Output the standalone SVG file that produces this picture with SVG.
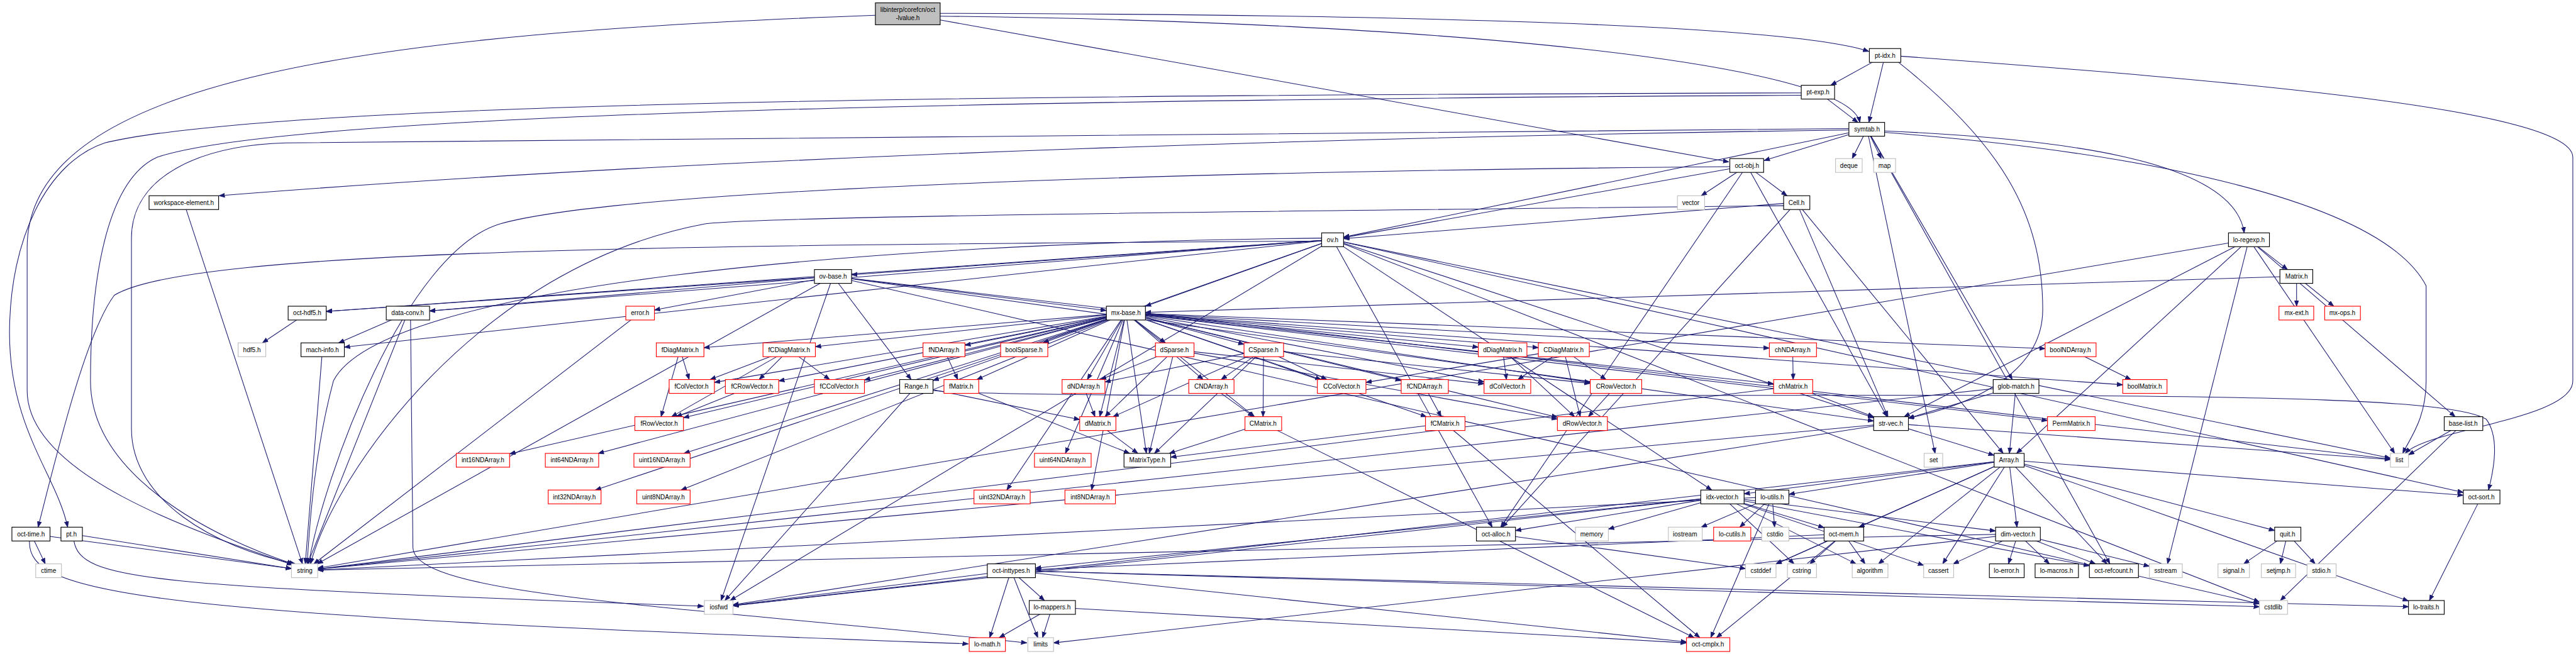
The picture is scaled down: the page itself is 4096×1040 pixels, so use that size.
<svg xmlns="http://www.w3.org/2000/svg" width="4096" height="1040" viewBox="0 0 4096 1040">
<style>
.n rect{fill:#fff;stroke:#000;stroke-width:1.5}
.n.r rect{stroke:#f00}
.n.g rect{stroke:#bfbfbf}
.n.root rect{fill:#bfbfbf}
.n text{font-family:"Liberation Sans",Arial,sans-serif;font-size:13.3px;text-anchor:middle;fill:#000}
.e path{fill:none;stroke:#191970;stroke-width:1.4;marker-end:url(#a)}
</style>
<defs>
<marker id="a" markerUnits="userSpaceOnUse" markerWidth="14" markerHeight="11" refX="12" refY="5" orient="auto"><path d="M0,0.5 L12,5 L0,9.5 z" fill="#191970" stroke="#191970" stroke-width="1"/></marker>
</defs>
<rect width="4096" height="1040" fill="#fff"/>
<g transform="scale(0.7573)">
<g id="edges" class="e">
<path d="M1974,28 C2900,30 3750,50 3924,108"/>
<path d="M1974,34 C3000,45 3880,130 3905,257"/>
<path d="M1974,42 L3630,340"/>
<path d="M1838,32 C800,70 57,160 57,520 L57,820 C57,1000 420,1120 614,1186"/>
<path d="M3958,116 L3844,179"/>
<path d="M3958,116 L3924,257"/>
<path d="M3985,130 C4200,300 4289,450 4289,650 C4289,800 4100,860 4006,878"/>
<path d="M3991,118 C4700,170 5402,230 5402,330 L5402,800 C5402,880 5100,900 5050,952"/>
<path d="M3817,193 L3901,257"/>
<path d="M3782,195 C2200,200 600,210 220,300 C100,340 20,500 20,700 C20,900 120,1000 142,1107"/>
<path d="M3782,200 C2000,210 600,240 330,330 C220,380 190,600 190,800 C190,1000 450,1130 615,1184"/>
<path d="M3920,271 L3889,333"/>
<path d="M3920,271 L3950,333"/>
<path d="M3920,271 L3704,337"/>
<path d="M3920,271 L2821,498"/>
<path d="M3882,273 C3000,285 1600,320 460,411"/>
<path d="M3882,270 C2500,275 1300,290 600,300 C420,305 276,370 276,500 L276,900 C276,1050 450,1150 620,1184"/>
<path d="M3957,275 C4300,290 4690,330 4712,489"/>
<path d="M3920,271 L4225,797"/>
<path d="M3957,278 C4500,320 5000,420 5094,600 L5094,800 C5094,880 5060,920 5045,952"/>
<path d="M3920,271 L4063,952"/>
<path d="M3920,271 L4430,1184"/>
<path d="M3668,348 L3572,411"/>
<path d="M3668,348 L3752,411"/>
<path d="M3668,348 L2821,499"/>
<path d="M3668,348 L3151,1107"/>
<path d="M3668,348 L3962,875"/>
<path d="M3632,350 C2400,360 1300,400 1050,470 C850,530 680,1000 648,1184"/>
<path d="M3772,425 L2821,501"/>
<path d="M3772,425 L4206,952"/>
<path d="M3772,425 L3154,1107"/>
<path d="M3772,425 L3964,875"/>
<path d="M3745,432 C2500,445 1600,455 1480,470 C1000,560 700,1000 652,1184"/>
<path d="M386,425 L635,1184"/>
<path d="M2798,503 L1788,577"/>
<path d="M2798,503 L2405,643"/>
<path d="M2798,503 L1959,799"/>
<path d="M2798,503 L685,654"/>
<path d="M2798,503 L902,653"/>
<path d="M2798,503 L723,729"/>
<path d="M2775,506 C1500,515 400,520 240,620 C180,700 120,950 80,1107"/>
<path d="M2775,500 C1800,510 800,600 700,800 C660,950 650,1100 645,1184"/>
<path d="M2798,503 L1533,1261"/>
<path d="M2798,503 L5019,962"/>
<path d="M2798,503 L4744,1264"/>
<path d="M2798,503 L3594,1029"/>
<path d="M2798,503 L3133,1107"/>
<path d="M2798,503 L3934,877"/>
<path d="M2798,503 L5172,1034"/>
<path d="M1749,580 L2323,652"/>
<path d="M1749,580 L1913,797"/>
<path d="M1749,580 L1374,651"/>
<path d="M1749,580 L685,654"/>
<path d="M1749,580 L902,653"/>
<path d="M1749,580 L3934,884"/>
<path d="M1749,580 L666,1184"/>
<path d="M1749,580 L1514,1261"/>
<path d="M1749,580 L5019,964"/>
<path d="M1749,580 L4744,1268"/>
<path d="M4722,503 L4803,566"/>
<path d="M4722,503 L4234,952"/>
<path d="M4722,503 L3998,875"/>
<path d="M4722,503 L5155,875"/>
<path d="M4722,503 L5028,952"/>
<path d="M4722,503 L4551,1184"/>
<path d="M4722,503 L667,1193"/>
<path d="M4822,580 L2405,656"/>
<path d="M4822,580 L4822,643"/>
<path d="M4822,580 L4900,643"/>
<path d="M645,657 L551,720"/>
<path d="M856,657 L711,720"/>
<path d="M862,671 L867,1150 C870,1250 1400,1270 2156,1350"/>
<path d="M856,657 L646,1184"/>
<path d="M677,734 L641,1184"/>
<path d="M1344,657 L659,1184"/>
<path d="M2364,657 L1478,730"/>
<path d="M2364,657 L1712,728"/>
<path d="M2364,657 L2026,725"/>
<path d="M2364,657 L2190,720"/>
<path d="M2364,657 L2447,720"/>
<path d="M2364,657 L2612,723"/>
<path d="M2364,657 L3104,729"/>
<path d="M2364,657 L3230,730"/>
<path d="M2364,657 L3715,731"/>
<path d="M2364,657 L4294,732"/>
<path d="M2364,657 L1500,803"/>
<path d="M2364,657 L1635,800"/>
<path d="M2364,657 L1815,798"/>
<path d="M2364,657 L2051,797"/>
<path d="M2364,657 L2283,797"/>
<path d="M2364,657 L2526,797"/>
<path d="M2364,657 L2774,797"/>
<path d="M2364,657 L2942,799"/>
<path d="M2364,657 L3116,802"/>
<path d="M2364,657 L3339,803"/>
<path d="M2364,657 L3724,806"/>
<path d="M2364,657 L4457,808"/>
<path d="M2364,657 L1435,877"/>
<path d="M2364,657 L2309,875"/>
<path d="M2364,657 L2634,875"/>
<path d="M2364,657 L2995,875"/>
<path d="M2364,657 L3270,876"/>
<path d="M2364,657 L4299,883"/>
<path d="M2364,657 L1070,953"/>
<path d="M2364,657 L1256,952"/>
<path d="M2364,657 L1436,952"/>
<path d="M2364,657 L2237,952"/>
<path d="M2364,657 L2407,952"/>
<path d="M2364,657 L1250,1029"/>
<path d="M2364,657 L1430,1029"/>
<path d="M2364,657 L2114,1029"/>
<path d="M2364,657 L2292,1029"/>
<path d="M1428,734 L1447,797"/>
<path d="M1428,734 L1388,875"/>
<path d="M1657,734 L1491,797"/>
<path d="M1657,734 L1594,797"/>
<path d="M1657,734 L1742,797"/>
<path d="M1657,734 L1410,875"/>
<path d="M1579,811 L1420,875"/>
<path d="M1982,734 L2011,797"/>
<path d="M2466,734 L2311,797"/>
<path d="M2466,734 L2320,875"/>
<path d="M2466,734 L2413,952"/>
<path d="M2466,734 L3116,806"/>
<path d="M2466,734 L3270,880"/>
<path d="M2653,734 L2564,797"/>
<path d="M2653,734 L2320,802"/>
<path d="M2653,734 L2337,875"/>
<path d="M2653,734 L2652,875"/>
<path d="M2653,734 L2424,952"/>
<path d="M2653,734 L2786,797"/>
<path d="M2653,734 L3339,805"/>
<path d="M2275,811 L2299,875"/>
<path d="M2543,811 L2632,875"/>
<path d="M2018,811 L2372,952"/>
<path d="M2305,889 L2389,952"/>
<path d="M2652,889 L2455,952"/>
<path d="M2652,889 L3557,1339"/>
<path d="M3034,889 L2458,960"/>
<path d="M3034,889 L3569,1339"/>
<path d="M1924,811 L2267,881"/>
<path d="M1924,811 L1522,1261"/>
<path d="M1959,820 C2100,835 3000,830 4000,830 C4800,830 5150,840 5220,880 C5250,920 5235,990 5225,1029"/>
<path d="M3155,734 L3163,797"/>
<path d="M3155,734 L3306,875"/>
<path d="M3283,734 L2868,803"/>
<path d="M3283,734 L3187,797"/>
<path d="M3283,734 L3372,797"/>
<path d="M3283,734 L3318,875"/>
<path d="M3764,734 L3765,797"/>
<path d="M3765,811 L3934,875"/>
<path d="M3765,811 L667,1195"/>
<path d="M2991,811 L3026,875"/>
<path d="M3393,811 L3335,875"/>
<path d="M4347,734 L4474,797"/>
<path d="M4233,811 L4219,952"/>
<path d="M4233,811 L4007,878"/>
<path d="M4233,811 L667,1195"/>
<path d="M3970,889 L4187,956"/>
<path d="M3970,889 L1539,1270"/>
<path d="M3970,889 L5019,965"/>
<path d="M3970,889 L667,1195"/>
<path d="M5172,889 L5057,955"/>
<path d="M5172,889 L4788,1261"/>
<path d="M4218,966 L4079,1184"/>
<path d="M4218,966 L3729,1184"/>
<path d="M4218,966 L3944,1184"/>
<path d="M4218,966 L1539,1272"/>
<path d="M4218,966 L4235,1107"/>
<path d="M4218,966 L3662,1037"/>
<path d="M4218,966 L5057,1262"/>
<path d="M4218,966 L3756,1038"/>
<path d="M4218,966 L5172,1040"/>
<path d="M4218,966 L4776,1114"/>
<path d="M4218,966 L3903,1107"/>
<path d="M4218,966 L4424,1184"/>
<path d="M3616,1043 L4039,1187"/>
<path d="M3616,1043 L3767,1184"/>
<path d="M3616,1043 L3897,1184"/>
<path d="M3616,1043 L1539,1272"/>
<path d="M3616,1043 L3377,1111"/>
<path d="M3616,1043 L4190,1115"/>
<path d="M3616,1043 L2174,1193"/>
<path d="M3616,1043 L3182,1114"/>
<path d="M3616,1043 L3830,1108"/>
<path d="M3616,1043 L4387,1188"/>
<path d="M3721,1043 L3572,1107"/>
<path d="M3721,1043 L3653,1107"/>
<path d="M3721,1043 L3726,1107"/>
<path d="M3721,1043 L667,1197"/>
<path d="M3721,1043 L3592,1339"/>
<path d="M3871,1121 L3729,1184"/>
<path d="M3871,1121 L3800,1184"/>
<path d="M3871,1121 L3916,1184"/>
<path d="M3871,1121 L3604,1339"/>
<path d="M3871,1121 L2174,1196"/>
<path d="M3141,1121 L3665,1194"/>
<path d="M4237,1121 L4101,1184"/>
<path d="M4237,1121 L4217,1184"/>
<path d="M4237,1121 L4303,1184"/>
<path d="M4237,1121 L4400,1184"/>
<path d="M4237,1121 L4513,1189"/>
<path d="M4237,1121 L667,1197"/>
<path d="M4237,1121 L2212,1350"/>
<path d="M4803,1121 L4711,1184"/>
<path d="M4803,1121 L4788,1184"/>
<path d="M4803,1121 L4861,1184"/>
<path d="M5210,1043 L5101,1261"/>
<path d="M2123,1198 L1539,1271"/>
<path d="M2123,1198 L2193,1261"/>
<path d="M2123,1198 L2078,1339"/>
<path d="M2123,1198 L2179,1339"/>
<path d="M2123,1198 L4744,1274"/>
<path d="M2123,1198 L5057,1274"/>
<path d="M2123,1198 L3541,1348"/>
<path d="M2209,1275 L2098,1339"/>
<path d="M2209,1275 L2189,1339"/>
<path d="M2209,1275 L3541,1350"/>
<path d="M65,1121 L95,1184"/>
<path d="M65,1121 L612,1194"/>
<path d="M62,1135 C55,1250 300,1290 2033,1352"/>
<path d="M150,1121 L612,1194"/>
<path d="M155,1135 C170,1220 300,1230 1477,1273"/>
</g>
<g id="n_root" class="n root"><rect x="1838" y="6" width="136" height="46"/><text x="1906" y="25">libinterp/corefcn/oct</text><text x="1906" y="42">-lvalue.h</text></g>
<g id="n_ptidx" class="n"><rect x="3925" y="102" width="66" height="29"/><text x="3958" y="121">pt-idx.h</text></g>
<g id="n_ptexp" class="n"><rect x="3782" y="179" width="70" height="29"/><text x="3817" y="198">pt-exp.h</text></g>
<g id="n_symtab" class="n"><rect x="3882" y="257" width="75" height="29"/><text x="3920" y="276">symtab.h</text></g>
<g id="n_octobj" class="n"><rect x="3632" y="333" width="71" height="29"/><text x="3668" y="352">oct-obj.h</text></g>
<g id="n_deque" class="n g"><rect x="3854" y="333" width="56" height="29"/><text x="3882" y="352">deque</text></g>
<g id="n_map" class="n g"><rect x="3934" y="333" width="46" height="29"/><text x="3957" y="352">map</text></g>
<g id="n_wse" class="n"><rect x="313" y="411" width="146" height="29"/><text x="386" y="430">workspace-element.h</text></g>
<g id="n_vector" class="n g"><rect x="3522" y="411" width="57" height="29"/><text x="3550" y="430">vector</text></g>
<g id="n_cell" class="n"><rect x="3745" y="411" width="55" height="29"/><text x="3772" y="430">Cell.h</text></g>
<g id="n_ov" class="n"><rect x="2775" y="489" width="46" height="29"/><text x="2798" y="508">ov.h</text></g>
<g id="n_regexp" class="n"><rect x="4679" y="489" width="86" height="29"/><text x="4722" y="508">lo-regexp.h</text></g>
<g id="n_ovbase" class="n"><rect x="1710" y="566" width="78" height="29"/><text x="1749" y="585">ov-base.h</text></g>
<g id="n_matrix" class="n"><rect x="4787" y="566" width="69" height="29"/><text x="4822" y="585">Matrix.h</text></g>
<g id="n_hdf5x" class="n"><rect x="605" y="643" width="80" height="29"/><text x="645" y="662">oct-hdf5.h</text></g>
<g id="n_dconv" class="n"><rect x="811" y="643" width="91" height="29"/><text x="856" y="662">data-conv.h</text></g>
<g id="n_error" class="n r"><rect x="1314" y="643" width="60" height="29"/><text x="1344" y="662">error.h</text></g>
<g id="n_mxbase" class="n"><rect x="2323" y="643" width="82" height="29"/><text x="2364" y="662">mx-base.h</text></g>
<g id="n_mxext" class="n r"><rect x="4785" y="643" width="73" height="29"/><text x="4822" y="662">mx-ext.h</text></g>
<g id="n_mxops" class="n r"><rect x="4881" y="643" width="75" height="29"/><text x="4918" y="662">mx-ops.h</text></g>
<g id="n_hdf5" class="n g"><rect x="500" y="720" width="58" height="29"/><text x="529" y="739">hdf5.h</text></g>
<g id="n_mach" class="n"><rect x="632" y="720" width="91" height="29"/><text x="677" y="739">mach-info.h</text></g>
<g id="n_fDiag" class="n r"><rect x="1378" y="720" width="100" height="29"/><text x="1428" y="739">fDiagMatrix.h</text></g>
<g id="n_fCDiag" class="n r"><rect x="1602" y="720" width="110" height="29"/><text x="1657" y="739">fCDiagMatrix.h</text></g>
<g id="n_fND" class="n r"><rect x="1938" y="720" width="88" height="29"/><text x="1982" y="739">fNDArray.h</text></g>
<g id="n_bSp" class="n r"><rect x="2101" y="720" width="99" height="29"/><text x="2150" y="739">boolSparse.h</text></g>
<g id="n_dSp" class="n r"><rect x="2426" y="720" width="81" height="29"/><text x="2466" y="739">dSparse.h</text></g>
<g id="n_CSp" class="n r"><rect x="2612" y="720" width="83" height="29"/><text x="2653" y="739">CSparse.h</text></g>
<g id="n_dDiag" class="n r"><rect x="3104" y="720" width="102" height="29"/><text x="3155" y="739">dDiagMatrix.h</text></g>
<g id="n_CDiag" class="n r"><rect x="3230" y="720" width="107" height="29"/><text x="3283" y="739">CDiagMatrix.h</text></g>
<g id="n_chND" class="n r"><rect x="3715" y="720" width="99" height="29"/><text x="3764" y="739">chNDArray.h</text></g>
<g id="n_bND" class="n r"><rect x="4294" y="720" width="107" height="29"/><text x="4347" y="739">boolNDArray.h</text></g>
<g id="n_fCV" class="n r"><rect x="1405" y="797" width="95" height="29"/><text x="1452" y="816">fColVector.h</text></g>
<g id="n_fCRV" class="n r"><rect x="1523" y="797" width="112" height="29"/><text x="1579" y="816">fCRowVector.h</text></g>
<g id="n_fCCV" class="n r"><rect x="1710" y="797" width="105" height="29"/><text x="1762" y="816">fCColVector.h</text></g>
<g id="n_range" class="n"><rect x="1889" y="797" width="70" height="29"/><text x="1924" y="816">Range.h</text></g>
<g id="n_fM" class="n r"><rect x="1982" y="797" width="73" height="29"/><text x="2018" y="816">fMatrix.h</text></g>
<g id="n_dND" class="n r"><rect x="2230" y="797" width="90" height="29"/><text x="2275" y="816">dNDArray.h</text></g>
<g id="n_CND" class="n r"><rect x="2496" y="797" width="95" height="29"/><text x="2543" y="816">CNDArray.h</text></g>
<g id="n_CCV" class="n r"><rect x="2766" y="797" width="102" height="29"/><text x="2817" y="816">CColVector.h</text></g>
<g id="n_fCND" class="n r"><rect x="2942" y="797" width="99" height="29"/><text x="2991" y="816">fCNDArray.h</text></g>
<g id="n_dCV" class="n r"><rect x="3116" y="797" width="98" height="29"/><text x="3165" y="816">dColVector.h</text></g>
<g id="n_CRV" class="n r"><rect x="3339" y="797" width="108" height="29"/><text x="3393" y="816">CRowVector.h</text></g>
<g id="n_chM" class="n r"><rect x="3724" y="797" width="82" height="29"/><text x="3765" y="816">chMatrix.h</text></g>
<g id="n_glob" class="n"><rect x="4185" y="797" width="96" height="29"/><text x="4233" y="816">glob-match.h</text></g>
<g id="n_bM" class="n r"><rect x="4457" y="797" width="93" height="29"/><text x="4503" y="816">boolMatrix.h</text></g>
<g id="n_fRV" class="n r"><rect x="1333" y="875" width="102" height="29"/><text x="1384" y="894">fRowVector.h</text></g>
<g id="n_dM" class="n r"><rect x="2267" y="875" width="76" height="29"/><text x="2305" y="894">dMatrix.h</text></g>
<g id="n_CM" class="n r"><rect x="2614" y="875" width="77" height="29"/><text x="2652" y="894">CMatrix.h</text></g>
<g id="n_fCM" class="n r"><rect x="2993" y="875" width="83" height="29"/><text x="3034" y="894">fCMatrix.h</text></g>
<g id="n_dRV" class="n r"><rect x="3270" y="875" width="105" height="29"/><text x="3322" y="894">dRowVector.h</text></g>
<g id="n_strvec" class="n"><rect x="3934" y="875" width="73" height="29"/><text x="3970" y="894">str-vec.h</text></g>
<g id="n_perm" class="n r"><rect x="4299" y="875" width="100" height="29"/><text x="4349" y="894">PermMatrix.h</text></g>
<g id="n_blist" class="n"><rect x="5132" y="875" width="81" height="29"/><text x="5172" y="894">base-list.h</text></g>
<g id="n_i16" class="n r"><rect x="958" y="952" width="112" height="29"/><text x="1014" y="971">int16NDArray.h</text></g>
<g id="n_i64" class="n r"><rect x="1145" y="952" width="112" height="29"/><text x="1201" y="971">int64NDArray.h</text></g>
<g id="n_u16" class="n r"><rect x="1331" y="952" width="118" height="29"/><text x="1390" y="971">uint16NDArray.h</text></g>
<g id="n_u64" class="n r"><rect x="2172" y="952" width="119" height="29"/><text x="2231" y="971">uint64NDArray.h</text></g>
<g id="n_mtype" class="n"><rect x="2360" y="952" width="98" height="29"/><text x="2409" y="971">MatrixType.h</text></g>
<g id="n_set" class="n g"><rect x="4040" y="952" width="39" height="29"/><text x="4060" y="971">set</text></g>
<g id="n_array" class="n"><rect x="4187" y="952" width="63" height="29"/><text x="4218" y="971">Array.h</text></g>
<g id="n_list" class="n g"><rect x="5019" y="952" width="38" height="29"/><text x="5038" y="971">list</text></g>
<g id="n_i32" class="n r"><rect x="1151" y="1029" width="111" height="29"/><text x="1206" y="1048">int32NDArray.h</text></g>
<g id="n_u8" class="n r"><rect x="1337" y="1029" width="112" height="29"/><text x="1393" y="1048">uint8NDArray.h</text></g>
<g id="n_u32" class="n r"><rect x="2045" y="1029" width="118" height="29"/><text x="2104" y="1048">uint32NDArray.h</text></g>
<g id="n_i8" class="n r"><rect x="2236" y="1029" width="106" height="29"/><text x="2289" y="1048">int8NDArray.h</text></g>
<g id="n_idx" class="n"><rect x="3571" y="1029" width="91" height="29"/><text x="3616" y="1048">idx-vector.h</text></g>
<g id="n_loutils" class="n"><rect x="3686" y="1029" width="70" height="29"/><text x="3721" y="1048">lo-utils.h</text></g>
<g id="n_osort" class="n"><rect x="5172" y="1029" width="77" height="29"/><text x="5210" y="1048">oct-sort.h</text></g>
<g id="n_otime" class="n"><rect x="25" y="1107" width="80" height="29"/><text x="65" y="1126">oct-time.h</text></g>
<g id="n_pt" class="n"><rect x="128" y="1107" width="45" height="29"/><text x="150" y="1126">pt.h</text></g>
<g id="n_alloc" class="n"><rect x="3100" y="1107" width="82" height="29"/><text x="3141" y="1126">oct-alloc.h</text></g>
<g id="n_memory" class="n g"><rect x="3308" y="1107" width="69" height="29"/><text x="3342" y="1126">memory</text></g>
<g id="n_iostream" class="n g"><rect x="3503" y="1107" width="71" height="29"/><text x="3538" y="1126">iostream</text></g>
<g id="n_lcutils" class="n r"><rect x="3598" y="1107" width="78" height="29"/><text x="3637" y="1126">lo-cutils.h</text></g>
<g id="n_cstdio" class="n g"><rect x="3699" y="1107" width="57" height="29"/><text x="3727" y="1126">cstdio</text></g>
<g id="n_mem" class="n"><rect x="3830" y="1107" width="83" height="29"/><text x="3871" y="1126">oct-mem.h</text></g>
<g id="n_dim" class="n"><rect x="4190" y="1107" width="94" height="29"/><text x="4237" y="1126">dim-vector.h</text></g>
<g id="n_quit" class="n"><rect x="4776" y="1107" width="55" height="29"/><text x="4803" y="1126">quit.h</text></g>
<g id="n_ctime" class="n g"><rect x="75" y="1184" width="54" height="29"/><text x="102" y="1203">ctime</text></g>
<g id="n_string" class="n g"><rect x="612" y="1184" width="55" height="29"/><text x="640" y="1203">string</text></g>
<g id="n_inttypes" class="n"><rect x="2073" y="1184" width="101" height="29"/><text x="2123" y="1203">oct-inttypes.h</text></g>
<g id="n_cstddef" class="n g"><rect x="3665" y="1184" width="64" height="29"/><text x="3697" y="1203">cstddef</text></g>
<g id="n_cstring" class="n g"><rect x="3753" y="1184" width="61" height="29"/><text x="3783" y="1203">cstring</text></g>
<g id="n_algo" class="n g"><rect x="3889" y="1184" width="75" height="29"/><text x="3926" y="1203">algorithm</text></g>
<g id="n_cassert" class="n g"><rect x="4039" y="1184" width="63" height="29"/><text x="4070" y="1203">cassert</text></g>
<g id="n_loerr" class="n"><rect x="4177" y="1184" width="73" height="29"/><text x="4213" y="1203">lo-error.h</text></g>
<g id="n_lomac" class="n"><rect x="4273" y="1184" width="91" height="29"/><text x="4318" y="1203">lo-macros.h</text></g>
<g id="n_refc" class="n"><rect x="4387" y="1184" width="103" height="29"/><text x="4438" y="1203">oct-refcount.h</text></g>
<g id="n_sstream" class="n g"><rect x="4513" y="1184" width="69" height="29"/><text x="4547" y="1203">sstream</text></g>
<g id="n_signal" class="n g"><rect x="4657" y="1184" width="66" height="29"/><text x="4690" y="1203">signal.h</text></g>
<g id="n_setjmp" class="n g"><rect x="4748" y="1184" width="72" height="29"/><text x="4784" y="1203">setjmp.h</text></g>
<g id="n_stdio" class="n g"><rect x="4844" y="1184" width="61" height="29"/><text x="4874" y="1203">stdio.h</text></g>
<g id="n_iosfwd" class="n g"><rect x="1479" y="1261" width="60" height="29"/><text x="1509" y="1280">iosfwd</text></g>
<g id="n_mappers" class="n"><rect x="2161" y="1261" width="97" height="29"/><text x="2209" y="1280">lo-mappers.h</text></g>
<g id="n_cstdlib" class="n g"><rect x="4744" y="1261" width="59" height="29"/><text x="4773" y="1280">cstdlib</text></g>
<g id="n_traits" class="n"><rect x="5057" y="1261" width="75" height="29"/><text x="5094" y="1280">lo-traits.h</text></g>
<g id="n_lomath" class="n r"><rect x="2035" y="1339" width="76" height="29"/><text x="2073" y="1358">lo-math.h</text></g>
<g id="n_limits" class="n g"><rect x="2158" y="1339" width="54" height="29"/><text x="2185" y="1358">limits</text></g>
<g id="n_cmplx" class="n r"><rect x="3541" y="1339" width="91" height="29"/><text x="3586" y="1358">oct-cmplx.h</text></g>
</g>
</svg>
